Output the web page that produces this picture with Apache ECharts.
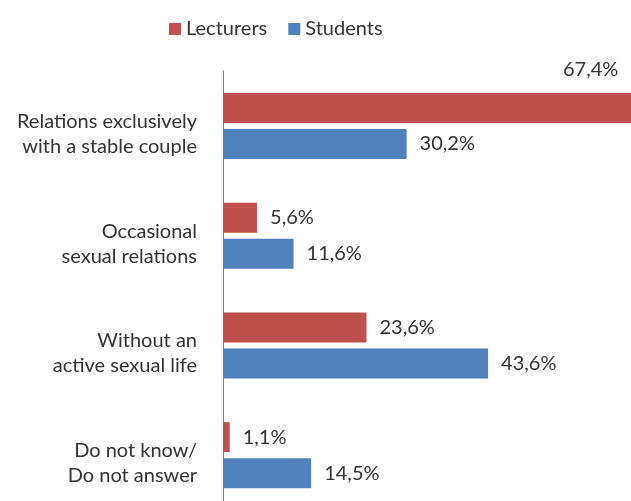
<!DOCTYPE html>
<html>
<head>
<meta charset="utf-8">
<script src="https://cdn.jsdelivr.net/npm/echarts@6/dist/echarts.min.js"></script>
<style>html,body{margin:0;padding:0;background:#fff}#c{width:631px;height:501px}</style>
</head>
<body>
<div id="c"></div>
<script>
const categories = [
  "Relations exclusively\nwith a stable couple",
  "Occasional\nsexual relations",
  "Without an\nactive sexual life",
  "Do not know/\nDo not answer"
];
const seriesNames = ["Lecturers", "Students"];
const lecturers = [67.4, 5.6, 23.6, 1.1];
const students = [30.2, 11.6, 43.6, 14.5];

const FONT = "Lato";
const TXT = "#333333";
const fmt = p => p.value.toFixed(1).replace('.', ',') + '%';

const chart = echarts.init(document.getElementById('c'), null, {renderer: 'canvas'});
const lecData = lecturers.map((v, i) => i === 0 ? {
  value: v,
  label: {position: [340, -23], align: 'left', verticalAlign: 'middle'}
} : v);

chart.setOption({
  animation: false,
  backgroundColor: '#ffffff',
  textStyle: {fontFamily: FONT},
  legend: {
    data: seriesNames,
    left: 164, top: 14,
    icon: 'rect', itemWidth: 12, itemHeight: 12, itemGap: 21,
    textStyle: {fontFamily: FONT, fontSize: 20, color: TXT}
  },
  grid: {left: 223, top: 71, width: 608, height: 439, containLabel: false, outerBoundsMode: 'none'},
  xAxis: {type: 'value', min: 0, max: 100, show: false},
  yAxis: {
    type: 'category', data: categories, inverse: true,
    axisLine: {show: true, lineStyle: {color: '#868686', width: 1}},
    axisTick: {show: false},
    splitLine: {show: false},
    axisLabel: {
      fontFamily: FONT, fontSize: 20, color: TXT, align: 'right',
      lineHeight: 25, margin: 26,
      formatter: v => '{s| }\n' + v.split('\n').map(t => '{t|' + t + '}').join('\n'),
      rich: {
        s: {fontSize: 1, lineHeight: 16},
        t: {fontFamily: FONT, fontSize: 20, color: TXT, lineHeight: 25, align: 'right'}
      }
    }
  },
  series: [
    {
      name: seriesNames[0], type: 'bar', data: lecData,
      barWidth: 30, barGap: '20%',
      itemStyle: {color: '#C0504D'},
      label: {show: true, position: 'right', distance: 13, formatter: fmt,
              fontFamily: FONT, fontSize: 20, color: TXT}
    },
    {
      name: seriesNames[1], type: 'bar', data: students,
      barWidth: 30, barGap: '20%',
      itemStyle: {color: '#4F81BD'},
      label: {show: true, position: 'right', distance: 13, formatter: fmt,
              fontFamily: FONT, fontSize: 20, color: TXT}
    }
  ]
});
</script>
</body>
</html>
